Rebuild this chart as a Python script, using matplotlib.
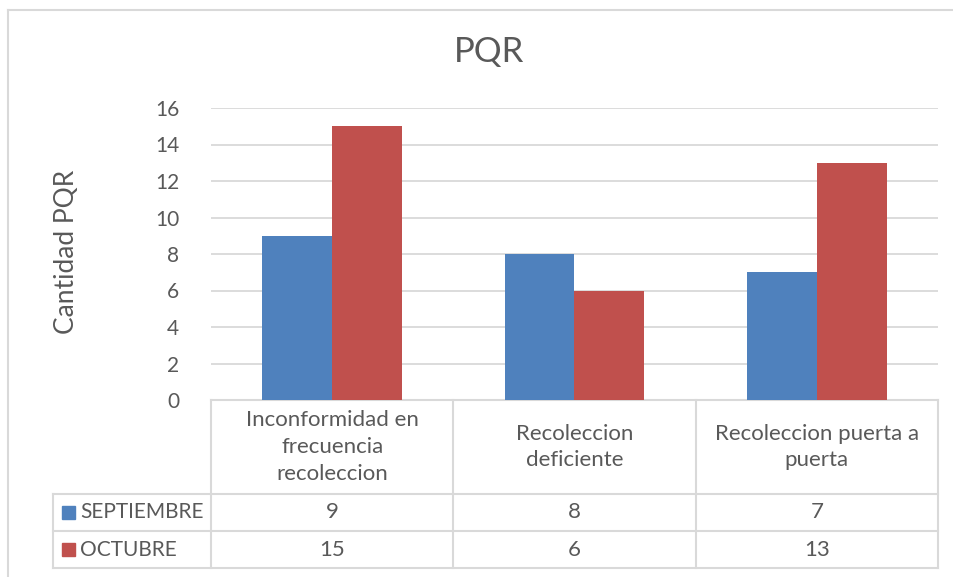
import matplotlib
matplotlib.use('Agg')
import matplotlib.pyplot as plt
from matplotlib.lines import Line2D
import matplotlib.transforms as mtransforms

plt.rcParams['font.family'] = ['Lato', 'DejaVu Sans']

# data
categories = ['Inconformidad en\nfrecuencia\nrecoleccion', 'Recoleccion\ndeficiente', 'Recoleccion puerta a\npuerta']
series_names = ['SEPTIEMBRE', 'OCTUBRE']
septiembre = [9, 8, 7]
octubre = [15, 6, 13]
colors = ['#4f81bd', '#c0504d']
text_color = '#595959'
line_color = '#d9d9d9'

W, H = 954, 577
fig = plt.figure(figsize=(W / 100, H / 100), dpi=100)

# pixel helpers for layout
def fx(px):
    return px / W

def fy(py):
    return 1 - py / H

left, right, top, bottom = 211, 938, 108, 400
ax = fig.add_axes([fx(left), fy(bottom), fx(right) - fx(left), fy(top) - fy(bottom)])

x = list(range(len(categories)))
w = 0.288
ax.bar([i - w / 2 for i in x], septiembre, width=w, color=colors[0], zorder=3)
ax.bar([i + w / 2 for i in x], octubre, width=w, color=colors[1], zorder=3)

ax.set_xlim(-0.5, len(categories) - 0.5)
ax.set_ylim(0, 16)
ax.set_yticks(range(0, 17, 2))
ax.set_xticks([])
ax.yaxis.grid(True, color=line_color, linewidth=1.3, zorder=0)
for s in ax.spines.values():
    s.set_visible(False)
ax.tick_params(axis='y', length=0, labelsize=15, colors=text_color, pad=23)
fig.text(fx(67), fy(252), 'Cantidad PQR', rotation=90, ha='center', va='center',
         fontsize=19, color=text_color)

fig.text(fx(489), fy(52), 'PQR', ha='center', va='center', fontsize=25, color=text_color)

# data table below the axis
trans = mtransforms.blended_transform_factory(ax.transData, fig.transFigure)
rows_y = [400, 494, 531, 568]
table_left = -0.5 - (left - 53) / ((right - left) / len(categories))

def hline(x0, x1, py):
    ax.add_line(Line2D([x0, x1], [fy(py), fy(py)], transform=trans, color=line_color,
                       linewidth=1.5, clip_on=False))

def vline(xx, py0, py1):
    ax.add_line(Line2D([xx, xx], [fy(py0), fy(py1)], transform=trans, color=line_color,
                       linewidth=1.5, clip_on=False))

hline(-0.5, len(categories) - 0.5, rows_y[0])
for py in rows_y[1:]:
    hline(table_left, len(categories) - 0.5, py)
for i in range(len(categories) + 1):
    vline(i - 0.5, rows_y[0], rows_y[-1])
vline(table_left, rows_y[1], rows_y[-1])

for i, cat in enumerate(categories):
    ax.text(i, fy((rows_y[0] + rows_y[1]) / 2), cat, transform=trans, ha='center', va='center',
            fontsize=16, color=text_color, linespacing=1.42)

for r, (name, vals) in enumerate(zip(series_names, [septiembre, octubre])):
    yc = fy((rows_y[r + 1] + rows_y[r + 2]) / 2)
    for i, v in enumerate(vals):
        ax.text(i, yc, str(v), transform=trans, ha='center', va='center',
                fontsize=16, color=text_color)
    fig.patches.append(plt.Rectangle((fx(62), yc - 6.5 / H), 13 / W, 13 / H,
                                     transform=fig.transFigure, color=colors[r]))
    fig.text(fx(80), yc, name, ha='left', va='center', fontsize=15, color=text_color)

# outer chart border (left and top visible)
fig.add_artist(Line2D([fx(8), fx(8)], [0, fy(10)], color=line_color, linewidth=1.5))
fig.add_artist(Line2D([fx(8), 1], [fy(10), fy(10)], color=line_color, linewidth=1.5))

fig.savefig('out.png', dpi=100)
